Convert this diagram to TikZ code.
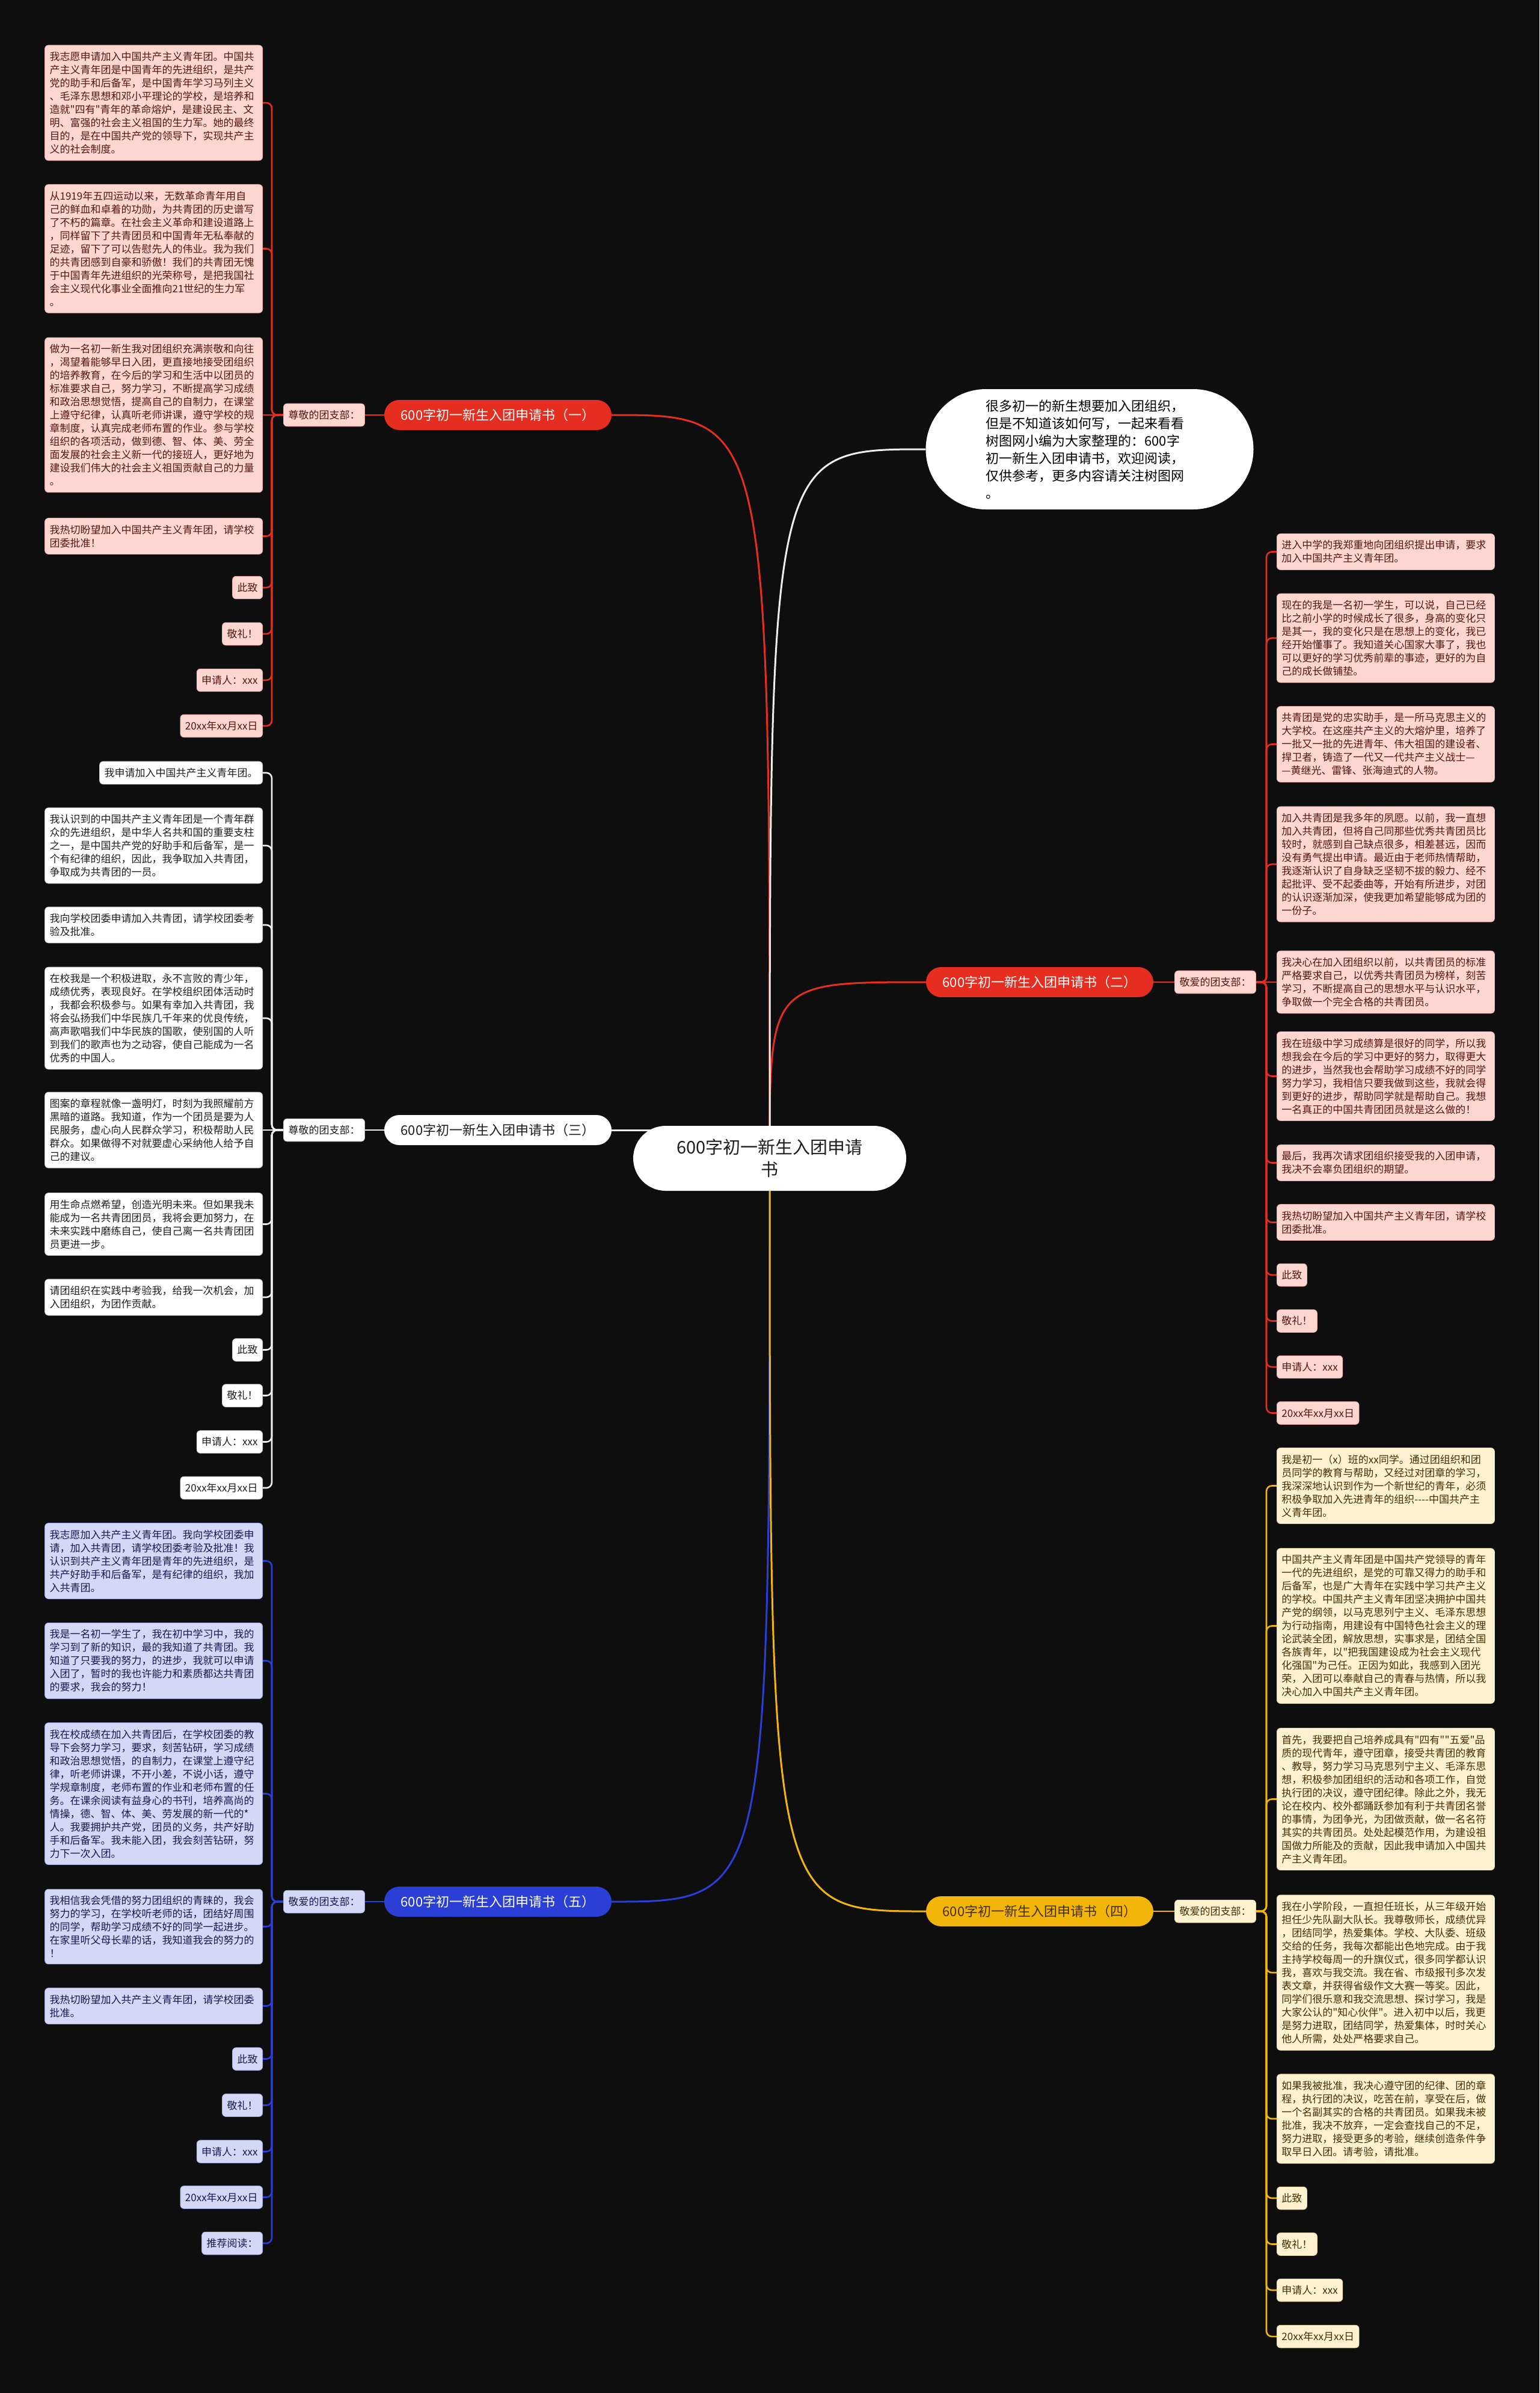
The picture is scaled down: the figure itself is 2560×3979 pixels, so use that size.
\documentclass[tikz,border=0pt]{standalone}
\usepackage{fontspec}
\newfontfamily\cjk{Noto Sans CJK SC}
\usetikzlibrary{backgrounds}
\definecolor{bgc}{RGB}{14,14,14}
\definecolor{redmain}{RGB}{229,45,32}
\definecolor{pinkfill}{RGB}{253,214,209}
\definecolor{pinkedge}{RGB}{235,175,168}
\definecolor{redtext}{RGB}{85,22,16}
\definecolor{bluemain}{RGB}{43,63,214}
\definecolor{lavfill}{RGB}{212,216,247}
\definecolor{lavedge}{RGB}{165,172,228}
\definecolor{bluetext}{RGB}{22,26,78}
\definecolor{yelmain}{RGB}{242,182,10}
\definecolor{creamfill}{RGB}{254,242,208}
\definecolor{creamedge}{RGB}{232,212,158}
\definecolor{yeltext}{RGB}{70,45,0}
\definecolor{wline}{RGB}{238,238,238}
\definecolor{graytext}{RGB}{30,30,30}
\definecolor{wedge}{RGB}{200,200,200}
\tikzset{
  base/.style={font=\cjk\fontsize{17}{22}\selectfont, inner xsep=8pt, inner ysep=11pt, rounded corners=6pt, align=left},
  wide/.style={text width=346pt},
  pleaf/.style={base, fill=pinkfill, draw=pinkedge, line width=0.8pt, text=redtext},
  bleaf/.style={base, fill=lavfill, draw=lavedge, line width=0.8pt, text=bluetext},
  yleaf/.style={base, fill=creamfill, draw=creamedge, line width=0.8pt, text=yeltext},
  wleaf/.style={base, fill=white, draw=wedge, line width=0.8pt, text=graytext},
  branch/.style={font=\cjk\fontsize{22}{28}\selectfont, minimum width=378pt, minimum height=50pt, rounded corners=25pt, inner sep=0pt},
  rline/.style={draw=redmain, line width=2.6pt, rounded corners=9pt},
  bline/.style={draw=bluemain, line width=2.6pt, rounded corners=9pt},
  yline/.style={draw=yelmain, line width=2.6pt, rounded corners=9pt},
  wl/.style={draw=wline, line width=2.6pt, rounded corners=9pt},
  rootline/.style={line width=3pt},
}
\begin{document}
\begin{tikzpicture}[x=1pt,y=-1pt]
\path[use as bounding box] (0,0) rectangle (2560,3979);

% root and intro
\node[font=\cjk\fontsize{29}{37}\selectfont, fill=white, text=graytext, minimum width=454pt, minimum height=108pt, rounded corners=54pt, align=center, inner sep=0pt] (root) at (1280,1926) {600字初一新生入团申请\\书};
\node[font=\cjk\fontsize{22}{29}\selectfont, fill=white, text=black, text width=345pt, minimum width=545pt, minimum height=200pt, rounded corners=100pt, align=left, inner sep=0pt] (intro) at (1812,747) {很多初一的新生想要加入团组织，\\但是不知道该如何写，一起来看看\\树图网小编为大家整理的：600字\\初一新生入团申请书，欢迎阅读，\\仅供参考，更多内容请关注树图网\\。};

% branch nodes
\node[branch, fill=redmain, text=white] (t1) at (828,690) {600字初一新生入团申请书（一）};
\node[branch, fill=white, text=graytext] (t3) at (828,1879) {600字初一新生入团申请书（三）};
\node[branch, fill=bluemain, text=white] (t5) at (828,3162) {600字初一新生入团申请书（五）};
\node[branch, fill=redmain, text=white] (t2) at (1729,1633) {600字初一新生入团申请书（二）};
\node[branch, fill=yelmain, text=yeltext] (t4) at (1729,3178) {600字初一新生入团申请书（四）};

% labels
\node[pleaf] (lab1) at (539,690) {尊敬的团支部：};
\node[wleaf] (lab3) at (539,1879) {尊敬的团支部：};
\node[bleaf] (lab5) at (539,3162) {敬爱的团支部：};
\node[pleaf] (lab2) at (2021,1633) {敬爱的团支部：};
\node[yleaf] (lab4) at (2021,3178) {敬爱的团支部：};

\coordinate (b1) at (452,690);
\coordinate (b3) at (452,1879);
\coordinate (b5) at (452,3162);
\coordinate (b2) at (2106,1633);
\coordinate (b4) at (2106,3178);

% ---------- branch 1 leaves
\node[pleaf, wide, anchor=east] (l1a) at (437,171) {我志愿申请加入中国共产主义青年团。中国共\\产主义青年团是中国青年的先进组织，是共产\\党的助手和后备军，是中国青年学习马列主义\\、毛泽东思想和邓小平理论的学校，是培养和\\造就"四有"青年的革命熔炉，是建设民主、文\\明、富强的社会主义祖国的生力军。她的最终\\目的，是在中国共产党的领导下，实现共产主\\义的社会制度。};
\node[pleaf, wide, anchor=east] (l1b) at (437,413.5) {从1919年五四运动以来，无数革命青年用自\\己的鲜血和卓着的功勋，为共青团的历史谱写\\了不朽的篇章。在社会主义革命和建设道路上\\，同样留下了共青团员和中国青年无私奉献的\\足迹，留下了可以告慰先人的伟业。我为我们\\的共青团感到自豪和骄傲！我们的共青团无愧\\于中国青年先进组织的光荣称号，是把我国社\\会主义现代化事业全面推向21世纪的生力军\\。};
\node[pleaf, wide, anchor=east] (l1c) at (437,690) {做为一名初一新生我对团组织充满崇敬和向往\\，渴望着能够早日入团，更直接地接受团组织\\的培养教育，在今后的学习和生活中以团员的\\标准要求自己，努力学习，不断提高学习成绩\\和政治思想觉悟，提高自己的自制力，在课堂\\上遵守纪律，认真听老师讲课，遵守学校的规\\章制度，认真完成老师布置的作业。参与学校\\组织的各项活动，做到德、智、体、美、劳全\\面发展的社会主义新一代的接班人，更好地为\\建设我们伟大的社会主义祖国贡献自己的力量\\。};
\node[pleaf, wide, anchor=east] (l1d) at (437,891.5) {我热切盼望加入中国共产主义青年团，请学校\\团委批准！};
\node[pleaf, anchor=east] (l1e) at (437,977) {此致};
\node[pleaf, anchor=east] (l1f) at (437,1054) {敬礼！};
\node[pleaf, anchor=east] (l1g) at (437,1131) {申请人：xxx};
\node[pleaf, anchor=east] (l1h) at (437,1207) {20xx年xx月xx日};

% ---------- branch 3 leaves
\node[wleaf, anchor=east] (l3a) at (437,1285) {我申请加入中国共产主义青年团。};
\node[wleaf, wide, anchor=east] (l3b) at (437,1406) {我认识到的中国共产主义青年团是一个青年群\\众的先进组织，是中华人名共和国的重要支柱\\之一，是中国共产党的好助手和后备军，是一\\个有纪律的组织，因此，我争取加入共青团，\\争取成为共青团的一员。};
\node[wleaf, wide, anchor=east] (l3c) at (437,1538) {我向学校团委申请加入共青团，请学校团委考\\验及批准。};
\node[wleaf, wide, anchor=east] (l3d) at (437,1693) {在校我是一个积极进取，永不言败的青少年，\\成绩优秀，表现良好。在学校组织团体活动时\\，我都会积极参与。如果有幸加入共青团，我\\将会弘扬我们中华民族几千年来的优良传统，\\高声歌唱我们中华民族的国歌，使别国的人听\\到我们的歌声也为之动容，使自己能成为一名\\优秀的中国人。};
\node[wleaf, wide, anchor=east] (l3e) at (437,1879) {图案的章程就像一盏明灯，时刻为我照耀前方\\黑暗的道路。我知道，作为一个团员是要为人\\民服务，虚心向人民群众学习，积极帮助人民\\群众。如果做得不对就要虚心采纳他人给予自\\己的建议。};
\node[wleaf, wide, anchor=east] (l3f) at (437,2035.5) {用生命点燃希望，创造光明未来。但如果我未\\能成为一名共青团团员，我将会更加努力，在\\未来实践中磨练自己，使自己离一名共青团团\\员更进一步。};
\node[wleaf, wide, anchor=east] (l3g) at (437,2157) {请团组织在实践中考验我，给我一次机会，加\\入团组织，为团作贡献。};
\node[wleaf, anchor=east] (l3h) at (437,2244.5) {此致};
\node[wleaf, anchor=east] (l3i) at (437,2320.5) {敬礼！};
\node[wleaf, anchor=east] (l3j) at (437,2397.5) {申请人：xxx};
\node[wleaf, anchor=east] (l3k) at (437,2474) {20xx年xx月xx日};

% ---------- branch 5 leaves
\node[bleaf, wide, anchor=east] (l5a) at (437,2595.5) {我志愿加入共产主义青年团。我向学校团委申\\请，加入共青团，请学校团委考验及批准！我\\认识到共产主义青年团是青年的先进组织，是\\共产好助手和后备军，是有纪律的组织，我加\\入共青团。};
\node[bleaf, wide, anchor=east] (l5b) at (437,2761.5) {我是一名初一学生了，我在初中学习中，我的\\学习到了新的知识，最的我知道了共青团。我\\知道了只要我的努力，的进步，我就可以申请\\入团了，暂时的我也许能力和素质都达共青团\\的要求，我会的努力！};
\node[bleaf, wide, anchor=east] (l5c) at (437,2982.5) {我在校成绩在加入共青团后，在学校团委的教\\导下会努力学习，要求，刻苦钻研，学习成绩\\和政治思想觉悟，的自制力，在课堂上遵守纪\\律，听老师讲课，不开小差，不说小话，遵守\\学规章制度，老师布置的作业和老师布置的任\\务。在课余阅读有益身心的书刊，培养高尚的\\情操，德、智、体、美、劳发展的新一代的*\\人。我要拥护共产党，团员的义务，共产好助\\手和后备军。我未能入团，我会刻苦钻研，努\\力下一次入团。};
\node[bleaf, wide, anchor=east] (l5d) at (437,3203.5) {我相信我会凭借的努力团组织的青睐的，我会\\努力的学习，在学校听老师的话，团结好周围\\的同学，帮助学习成绩不好的同学一起进步。\\在家里听父母长辈的话，我知道我会的努力的\\！};
\node[bleaf, wide, anchor=east] (l5e) at (437,3335.5) {我热切盼望加入共产主义青年团，请学校团委\\批准。};
\node[bleaf, anchor=east] (l5f) at (437,3423.5) {此致};
\node[bleaf, anchor=east] (l5g) at (437,3500.5) {敬礼！};
\node[bleaf, anchor=east] (l5h) at (437,3577.5) {申请人：xxx};
\node[bleaf, anchor=east] (l5i) at (437,3653.5) {20xx年xx月xx日};
\node[bleaf, anchor=east] (l5j) at (437,3730) {推荐阅读：};

% ---------- branch 2 leaves
\node[pleaf, wide, anchor=west] (r2a) at (2123,917.5) {进入中学的我郑重地向团组织提出申请，要求\\加入中国共产主义青年团。};
\node[pleaf, wide, anchor=west] (r2b) at (2123,1061) {现在的我是一名初一学生，可以说，自己已经\\比之前小学的时候成长了很多，身高的变化只\\是其一，我的变化只是在思想上的变化，我已\\经开始懂事了。我知道关心国家大事了，我也\\可以更好的学习优秀前辈的事迹，更好的为自\\己的成长做铺垫。};
\node[pleaf, wide, anchor=west] (r2c) at (2123,1237.5) {共青团是党的忠实助手，是一所马克思主义的\\大学校。在这座共产主义的大熔炉里，培养了\\一批又一批的先进青年、伟大祖国的建设者、\\捍卫者，铸造了一代又一代共产主义战士—\\—黄继光、雷锋、张海迪式的人物。};
\node[pleaf, wide, anchor=west] (r2d) at (2123,1437) {加入共青团是我多年的夙愿。以前，我一直想\\加入共青团，但将自己同那些优秀共青团员比\\较时，就感到自己缺点很多，相差甚远，因而\\没有勇气提出申请。最近由于老师热情帮助，\\我逐渐认识了自身缺乏坚韧不拔的毅力、经不\\起批评、受不起委曲等，开始有所进步，对团\\的认识逐渐加深，使我更加希望能够成为团的\\一份子。};
\node[pleaf, wide, anchor=west] (r2e) at (2123,1633) {我决心在加入团组织以前，以共青团员的标准\\严格要求自己，以优秀共青团员为榜样，刻苦\\学习，不断提高自己的思想水平与认识水平，\\争取做一个完全合格的共青团员。};
\node[pleaf, wide, anchor=west] (r2f) at (2123,1789.5) {我在班级中学习成绩算是很好的同学，所以我\\想我会在今后的学习中更好的努力，取得更大\\的进步，当然我也会帮助学习成绩不好的同学\\努力学习，我相信只要我做到这些，我就会得\\到更好的进步，帮助同学就是帮助自己。我想\\一名真正的中国共青团团员就是这么做的！};
\node[pleaf, wide, anchor=west] (r2g) at (2123,1933.5) {最后，我再次请求团组织接受我的入团申请，\\我决不会辜负团组织的期望。};
\node[pleaf, wide, anchor=west] (r2h) at (2123,2032.5) {我热切盼望加入中国共产主义青年团，请学校\\团委批准。};
\node[pleaf, anchor=west] (r2i) at (2123,2120) {此致};
\node[pleaf, anchor=west] (r2j) at (2123,2196.5) {敬礼！};
\node[pleaf, anchor=west] (r2k) at (2123,2273) {申请人：xxx};
\node[pleaf, anchor=west] (r2l) at (2123,2349.5) {20xx年xx月xx日};

% ---------- branch 4 leaves
\node[yleaf, wide, anchor=west] (r4a) at (2123,2470.5) {我是初一（x）班的xx同学。通过团组织和团\\员同学的教育与帮助，又经过对团章的学习，\\我深深地认识到作为一个新世纪的青年，必须\\积极争取加入先进青年的组织----中国共产主\\义青年团。};
\node[yleaf, wide, anchor=west] (r4b) at (2123,2703.5) {中国共产主义青年团是中国共产党领导的青年\\一代的先进组织，是党的可靠又得力的助手和\\后备军，也是广大青年在实践中学习共产主义\\的学校。中国共产主义青年团坚决拥护中国共\\产党的纲领，以马克思列宁主义、毛泽东思想\\为行动指南，用建设有中国特色社会主义的理\\论武装全团，解放思想，实事求是，团结全国\\各族青年，以"把我国建设成为社会主义现代\\化强国"为己任。正因为如此，我感到入团光\\荣，入团可以奉献自己的青春与热情，所以我\\决心加入中国共产主义青年团。};
\node[yleaf, wide, anchor=west] (r4c) at (2123,2991.5) {首先，我要把自己培养成具有"四有""五爱"品\\质的现代青年，遵守团章，接受共青团的教育\\、教导，努力学习马克思列宁主义、毛泽东思\\想，积极参加团组织的活动和各项工作，自觉\\执行团的决议，遵守团纪律。除此之外，我无\\论在校内、校外都踊跃参加有利于共青团名誉\\的事情，为团争光，为团做贡献，做一名名符\\其实的共青团员。处处起模范作用，为建设祖\\国做力所能及的贡献，因此我申请加入中国共\\产主义青年团。};
\node[yleaf, wide, anchor=west] (r4d) at (2123,3280) {我在小学阶段，一直担任班长，从三年级开始\\担任少先队副大队长。我尊敬师长，成绩优异\\，团结同学，热爱集体。学校、大队委、班级\\交给的任务，我每次都能出色地完成。由于我\\主持学校每周一的升旗仪式，很多同学都认识\\我，喜欢与我交流。我在省、市级报刊多次发\\表文章，并获得省级作文大赛一等奖。因此，\\同学们很乐意和我交流思想、探讨学习，我是\\大家公认的"知心伙伴"。进入初中以后，我更\\是努力进取，团结同学，热爱集体，时时关心\\他人所需，处处严格要求自己。};
\node[yleaf, wide, anchor=west] (r4e) at (2123,3523) {如果我被批准，我决心遵守团的纪律、团的章\\程，执行团的决议，吃苦在前，享受在后，做\\一个名副其实的合格的共青团员。如果我未被\\批准，我决不放弃，一定会查找自己的不足，\\努力进取，接受更多的考验，继续创造条件争\\取早日入团。请考验，请批准。};
\node[yleaf, anchor=west] (r4f) at (2123,3655) {此致};
\node[yleaf, anchor=west] (r4g) at (2123,3731.5) {敬礼！};
\node[yleaf, anchor=west] (r4h) at (2123,3808) {申请人：xxx};
\node[yleaf, anchor=west] (r4i) at (2123,3885) {20xx年xx月xx日};

% ---------- connectors (behind nodes)
\begin{scope}[on background layer]
\fill[bgc] (0,0) rectangle (2560,3979);
% root to branches
\draw[redmain, rootline] (root.center) .. controls (root.center |- t1.east) .. (t1.east);
\draw[redmain, rootline] (root.center) .. controls (root.center |- t2.west) .. (t2.west);
\draw[wline, rootline] (root.center) .. controls (root.center |- intro.west) .. (intro.west);
\draw[wline, rootline] (root.center |- t3.east) -- (t3.east);
\draw[bluemain, rootline] (root.center) .. controls (root.center |- t5.east) .. (t5.east);
\draw[yelmain, rootline] (root.center) .. controls (root.center |- t4.west) .. (t4.west);
% branch to label
\draw[rline] (t1.west) -- (lab1.east);
\draw[wl] (t3.west) -- (lab3.east);
\draw[bline] (t5.west) -- (lab5.east);
\draw[rline] (t2.east) -- (lab2.west);
\draw[yline] (t4.east) -- (lab4.west);
% label to leaves
\foreach \n in {l1a,l1b,l1d,l1e,l1f,l1g,l1h}
  \draw[rline] (lab1.west) -- (b1) |- (\n.east);
\draw[rline] (lab1.west) -- (l1c.east);
\foreach \n in {l3a,l3b,l3c,l3d,l3f,l3g,l3h,l3i,l3j,l3k}
  \draw[wl] (lab3.west) -- (b3) |- (\n.east);
\draw[wl] (lab3.west) -- (l3e.east);
\foreach \n in {l5a,l5b,l5c,l5d,l5e,l5f,l5g,l5h,l5i,l5j}
  \draw[bline] (lab5.west) -- (b5) |- (\n.east);
\foreach \n in {r2a,r2b,r2c,r2d,r2f,r2g,r2h,r2i,r2j,r2k,r2l}
  \draw[rline] (lab2.east) -- (b2) |- (\n.west);
\draw[rline] (lab2.east) -- (r2e.west);
\foreach \n in {r4a,r4b,r4c,r4d,r4e,r4f,r4g,r4h,r4i}
  \draw[yline] (lab4.east) -- (b4) |- (\n.west);
\end{scope}
\end{tikzpicture}
\end{document}
